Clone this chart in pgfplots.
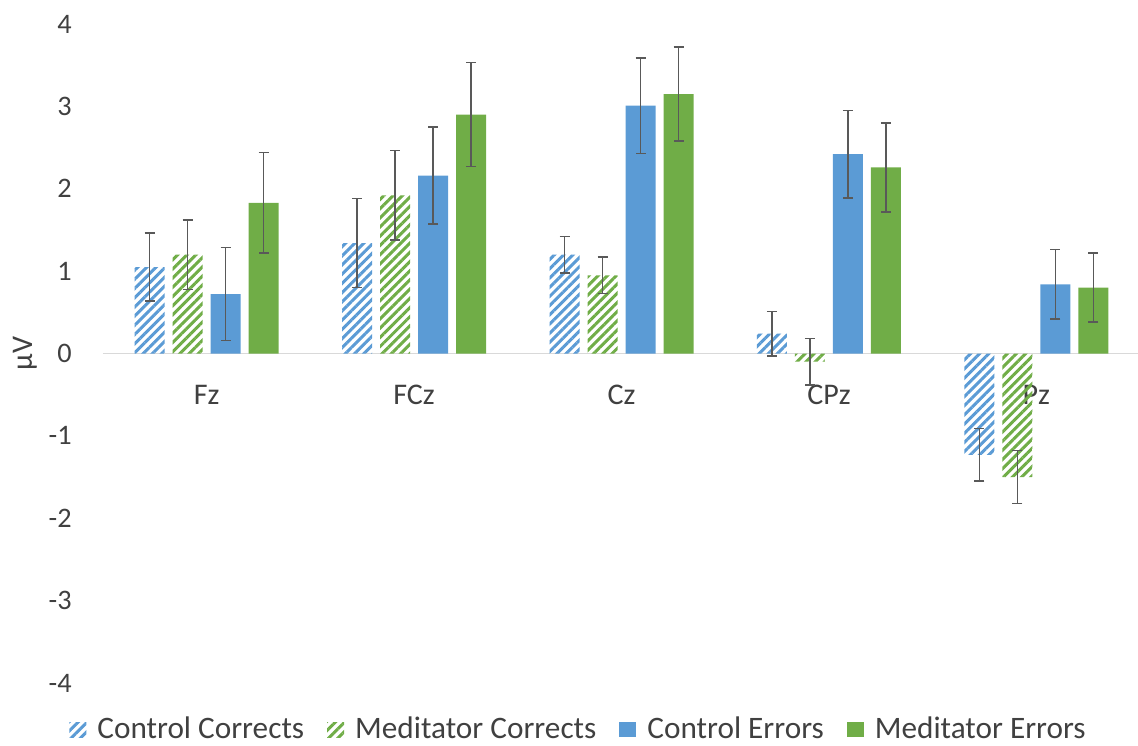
\documentclass[border=0pt]{standalone}
\usepackage{pgfplots}
\pgfplotsset{compat=1.18}
\usepackage{fontspec}
\setmainfont{Carlito}
\usetikzlibrary{patterns.meta}
\definecolor{cblue}{HTML}{5B9BD5}
\definecolor{cgreen}{HTML}{70AD47}
\definecolor{txt}{HTML}{404040}
\definecolor{errc}{HTML}{595959}
\definecolor{cline}{HTML}{D9D9D9}
\begin{document}
\begin{tikzpicture}
\begin{axis}[
  scale only axis, width=414pt, height=263.6pt,
  xmin=-0.5, xmax=4.49, ymin=-4, ymax=4,
  axis x line=middle, axis y line=left,
  x axis line style={-, draw=cline, line width=0.6pt},
  y axis line style={draw=none},
  major tick length=0pt, tick style={draw=none},
  xtick={0,1,2,3,4}, xticklabels={Fz,FCz,Cz,CPz,Pz},
  ytick={-4,-3,-2,-1,0,1,2,3,4},
  yticklabels={-4,-3,-2,-1,0,1,2,3,4},
  yticklabel style={font=\fontsize{11.3}{13}\selectfont, text=txt, anchor=east, xshift=-9pt},
  xticklabel style={font=\fontsize{12}{14}\selectfont, text=txt, anchor=center, yshift=-16.4pt},
  ylabel={µV},
  ylabel style={at={(axis description cs:-0.0754,0.5)}, anchor=center, font=\fontsize{12}{14}\selectfont, text=txt},
  ybar=0pt, bar width=0.1446,
  error bars/y dir=both, error bars/y explicit,
  error bars/error bar style={errc, line width=0.6pt},
  error bars/error mark options={rotate=90, errc, mark size=2pt, line width=0.6pt},
  legend style={at={(0.4585,-0.0705)}, anchor=center, draw=none, fill=none,
    legend columns=-1, font=\fontsize{12.5}{15}\selectfont, text=txt,
    nodes={inner sep=0pt},
    /tikz/every odd column/.append style={column sep=4.4pt},
    /tikz/every even column/.append style={column sep=9.2pt}},
  legend image code/.code={\path[#1, draw=none] (0pt,-3.2pt) rectangle (6.8pt,2.8pt);},
]
\addplot[draw=none, pattern={Lines[angle=45, distance=2.6pt, line width=1.2pt]}, pattern color=cblue, bar shift=-0.2747]
 coordinates {(0,1.05) +- (0,0.41) (1,1.34) +- (0,0.54) (2,1.20) +- (0,0.22) (3,0.24) +- (0,0.27) (4,-1.23) +- (0,0.32)};
\addplot[draw=none, pattern={Lines[angle=45, distance=2.6pt, line width=1.2pt]}, pattern color=cgreen, bar shift=-0.0916]
 coordinates {(0,1.20) +- (0,0.42) (1,1.92) +- (0,0.545) (2,0.95) +- (0,0.22) (3,-0.10) +- (0,0.28) (4,-1.50) +- (0,0.32)};
\addplot[draw=none, fill=cblue, bar shift=0.0916]
 coordinates {(0,0.72) +- (0,0.565) (1,2.16) +- (0,0.59) (2,3.01) +- (0,0.58) (3,2.42) +- (0,0.53) (4,0.84) +- (0,0.42)};
\addplot[draw=none, fill=cgreen, bar shift=0.2747]
 coordinates {(0,1.83) +- (0,0.61) (1,2.90) +- (0,0.63) (2,3.15) +- (0,0.57) (3,2.26) +- (0,0.54) (4,0.80) +- (0,0.42)};
\legend{Control Corrects, Meditator Corrects, Control Errors, Meditator Errors}
\end{axis}
\pgfresetboundingbox
\useasboundingbox ([shift={(-41.2pt,-24.8pt)}]current axis.south west) rectangle ([shift={(0pt,9.6pt)}]current axis.north east);
\end{tikzpicture}
\end{document}
